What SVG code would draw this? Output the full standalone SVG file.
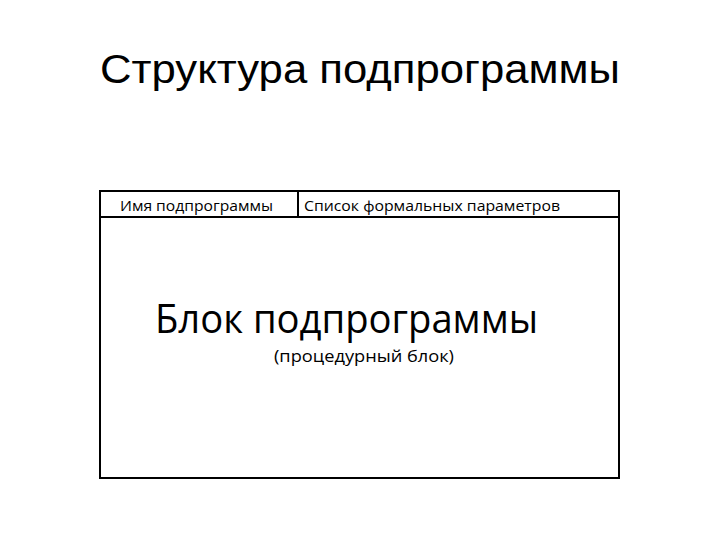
<svg xmlns="http://www.w3.org/2000/svg" width="720" height="540" viewBox="0 0 720 540">
<style>
.t{font-family:"Liberation Sans",Arial,sans-serif;fill:#000}
.c{font-family:"Open Sans","Noto Sans",sans-serif;fill:#000}
.ln{stroke:#000;stroke-width:2;fill:none}
</style>
<rect width="720" height="540" fill="#fff"/>
<text class="t" x="360" y="83" font-size="40" text-anchor="middle" textLength="520" lengthAdjust="spacingAndGlyphs">Структура подпрограммы</text>
<g id="frame">
<rect class="ln" x="100" y="191" width="519" height="287"/>
<line class="ln" x1="100" y1="217" x2="619" y2="217"/>
<line class="ln" x1="298" y1="191" x2="298" y2="217"/>
</g>
<g id="name">
<text class="c" x="120" y="211" font-size="14" textLength="153" lengthAdjust="spacingAndGlyphs">Имя подпрограммы</text>
</g>
<g id="params">
<text class="c" x="304" y="211" font-size="14" textLength="256" lengthAdjust="spacingAndGlyphs">Список формальных параметров</text>
</g>
<g id="block">
<text class="c" x="155" y="333" font-size="40" textLength="383" lengthAdjust="spacingAndGlyphs">Блок подпрограммы</text>
<text class="c" x="274" y="362" font-size="16.5" textLength="180" lengthAdjust="spacingAndGlyphs">(процедурный блок)</text>
</g>
</svg>
